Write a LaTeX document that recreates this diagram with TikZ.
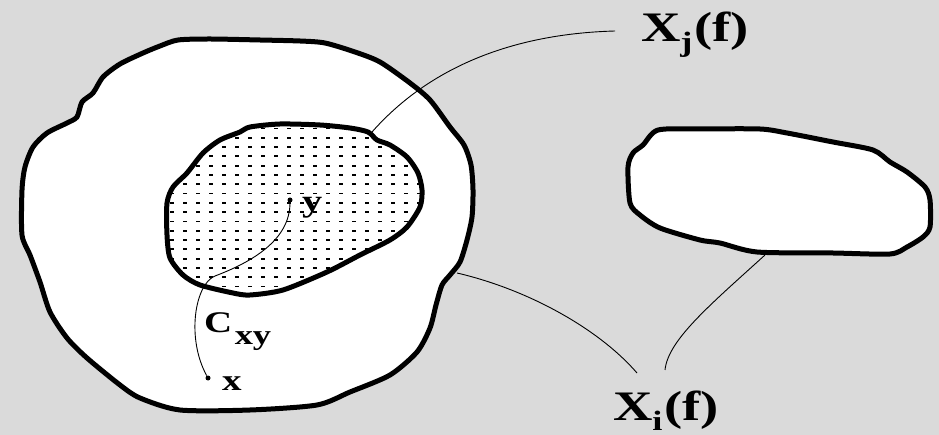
\documentclass[tikz,border=0pt]{standalone}
\usepackage{fontspec}
\setmainfont{Liberation Serif}
\usepackage{graphicx}
\begin{document}
\begin{tikzpicture}[x=1pt,y=-1pt,
  blob/.style={draw=black,line width=5pt,fill=white,line join=round},
  leader/.style={draw=black,line width=0.9pt},
  lbl/.style={inner sep=0pt,outer sep=0pt,font=\bfseries},
  ptdot/.style={circle,fill=black,inner sep=0pt,minimum size=5pt},
  griddot/.style={fill=black}]
\definecolor{bggray}{RGB}{218,218,218}
\useasboundingbox (0,0) rectangle (939,435);
\fill[bggray] (0,0) rectangle (939,435);
% outer blob
\path[blob] plot[smooth cycle,tension=0.45] coordinates {
 (160,46) (178,40) (210,39) (260,40) (300,41) (325,43) (355,52) (380,62) (410,83)
 (430,100) (450,127) (464,145) (471,165) (473,190) (472,217) (467,240)
 (460,262) (450,275) (442,285) (436,305) (430,328) (417,352) (390,375)
 (350,392) (317,405) (250,410) (180,410) (140,398) (120,385) (87,358)
 (67,338) (50,312) (40,282) (30,255) (22,235) (22,190) (25,167) (33,147)
 (47,133) (67,123) (77,117) (82,102) (93,93) (103,77) (120,64) (143,53)};
% right blob
\path[blob] plot[smooth cycle,tension=0.45] coordinates {
 (658,130) (700,129) (760,129) (787,133) (833,142) (873,150) (890,162)
 (907,172) (925,187) (930,200) (930,227) (923,237) (907,247) (890,254)
 (833,253) (757,252) (720,243) (700,240) (660,228) (640,215) (630,203)
 (628,167) (633,153) (643,145)};
% inner blob: white fill, dots, outline
\def\innerpath{plot[smooth cycle,tension=0.45] coordinates {
 (250,127) (280,124) (320,125) (350,128) (368,132) (377,140) (390,145)
 (407,157) (418,173) (422,190) (420,207) (407,227) (390,240) (360,255)
 (327,272) (283,290) (250,295) (233,293) (200,285) (183,275) (170,258)
 (167,235) (167,203) (173,187) (187,173) (203,153) (220,140) (240,132)}}
\begin{scope}
\clip \innerpath;
\foreach \i in {0,...,20}{
  \foreach \j in {-6,...,14}{
    \fill[griddot] ({172+13*\i-1.6},{175+9.3*\j-0.9}) rectangle ++(3.2,1.8);
  }
}
\end{scope}
\path[blob,fill=none] \innerpath;
% points and curve
\node[ptdot] (py) at (290,200) {};
\node[ptdot] (px) at (208,378) {};
\draw[leader] (py) .. controls (290,240) and (252,262) .. (215,276)
  .. controls (195,284) and (186,338) .. (px);
% leader lines
\coordinate (innertop) at (372,132);
\coordinate (ljend) at (615,31);
\coordinate (outerright) at (457,273);
\coordinate (rightbottom) at (765,255);
\coordinate (lia) at (637,373);
\coordinate (lib) at (665,370);
\draw[leader] (innertop) .. controls (425,72) and (505,34) .. (ljend);
\draw[leader] (outerright) .. controls (530,290) and (600,330) .. (lia);
\draw[leader] (rightbottom) .. controls (710,305) and (668,340) .. (lib);
% labels
\node[lbl,anchor=base west] (xj) at (641,42)
  {\scalebox{1.3}[1]{\fontsize{42}{42}\selectfont X\raisebox{-10pt}{\fontsize{28}{28}\selectfont j}\kern1.5pt(f)}};
\node[lbl,anchor=base west] (xi) at (613,420)
  {\scalebox{1.3}[1]{\fontsize{42}{42}\selectfont X\raisebox{-10pt}{\fontsize{28}{28}\selectfont i}\kern1.5pt(f)}};
\node[lbl,anchor=base west] (cxy) at (204,333)
  {\scalebox{1.3}[1]{\fontsize{30}{30}\selectfont C\kern2pt\raisebox{-12pt}{\fontsize{28}{28}\selectfont xy}}};
\node[lbl,anchor=base west] (lx) at (222,390)
  {\scalebox{1.3}[1]{\fontsize{30}{30}\selectfont x}};
\node[lbl,anchor=base west] (ly) at (302,212)
  {\scalebox{1.3}[1]{\fontsize{31}{31}\selectfont y}};
\end{tikzpicture}
\end{document}
